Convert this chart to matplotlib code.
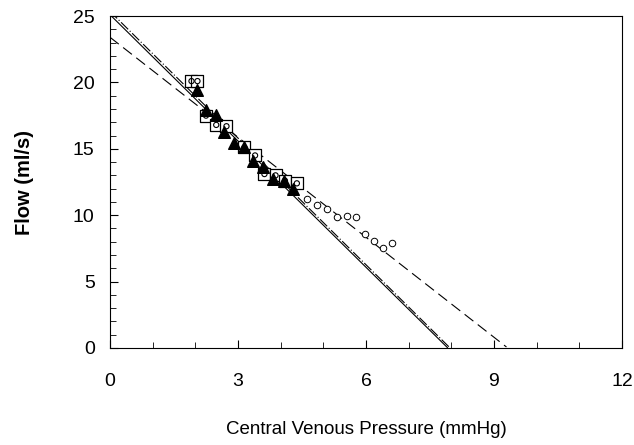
import numpy as np
import matplotlib
matplotlib.use("Agg")
import matplotlib.pyplot as plt
from matplotlib.ticker import MultipleLocator

plt.rcParams["font.family"] = ["Liberation Sans", "DejaVu Sans"]

# squares with a circle inside
sq_x = [1.91, 2.05, 2.25, 2.49, 2.73, 3.15, 3.40, 3.62, 3.88, 4.10, 4.38]
sq_y = [20.1, 20.1, 17.5, 16.8, 16.7, 15.1, 14.5, 13.1, 13.0, 12.6, 12.4]

# filled triangles
tri_x = [2.03, 2.26, 2.49, 2.68, 2.91, 3.14, 3.35, 3.58, 3.83, 4.07, 4.30]
tri_y = [19.4, 17.95, 17.55, 16.3, 15.45, 15.1, 14.1, 13.65, 12.75, 12.55, 12.0]

# small open circles
circ_x = [4.61, 4.86, 5.09, 5.33, 5.56, 5.76, 5.97, 6.18, 6.40, 6.62]
circ_y = [11.2, 10.8, 10.45, 9.85, 9.95, 9.9, 8.6, 8.05, 7.5, 7.9]

# regression lines: intercept, slope
fit_solid = (25.1, -3.17)
fit_dashdot = (25.35, -3.18)
fit_dashed = (23.4, -2.51)

fig = plt.figure(figsize=(6.34, 4.45), dpi=100)
ax = fig.add_axes([0.1735, 0.218, 0.8075, 0.746])

xx = np.linspace(0, 12, 400)
for (b, m), ls in [(fit_solid, "-"), (fit_dashdot, (0, (9, 2, 1, 2))), (fit_dashed, (0, (10, 5)))]:
    yy = b + m * xx
    keep = yy >= 0
    ax.plot(xx[keep], yy[keep], color="black", lw=0.8, linestyle=ls)

ax.scatter(circ_x, circ_y, s=22, facecolors="white", edgecolors="black", linewidths=0.7, zorder=3)
ax.scatter(sq_x, sq_y, marker="s", s=80, facecolors="white", edgecolors="black", linewidths=0.9, zorder=4)
ax.scatter(sq_x, sq_y, marker="o", s=14, facecolors="none", edgecolors="black", linewidths=0.8, zorder=5)
ax.scatter(tri_x, tri_y, marker="^", s=70, color="black", zorder=6)

ax.set_xlim(0, 12)
ax.set_ylim(0, 25)
ax.xaxis.set_major_locator(MultipleLocator(3))
ax.xaxis.set_minor_locator(MultipleLocator(1))
ax.yaxis.set_major_locator(MultipleLocator(5))
ax.yaxis.set_minor_locator(MultipleLocator(1))
ax.tick_params(which="both", direction="in", top=False, right=False, labelsize=14)
ax.tick_params(which="major", length=6)
ax.tick_params(which="minor", length=4)
ax.tick_params(axis="x", pad=18)
ax.tick_params(axis="y", pad=11)
for s in ax.spines.values():
    s.set_linewidth(0.8)

ax.set_xlabel("Central Venous Pressure (mmHg)", fontsize=13.5, labelpad=22)
ax.set_ylabel("Flow (ml/s)", fontsize=14.5, fontweight="bold", labelpad=28)

fig.savefig("out.png", dpi=100)
